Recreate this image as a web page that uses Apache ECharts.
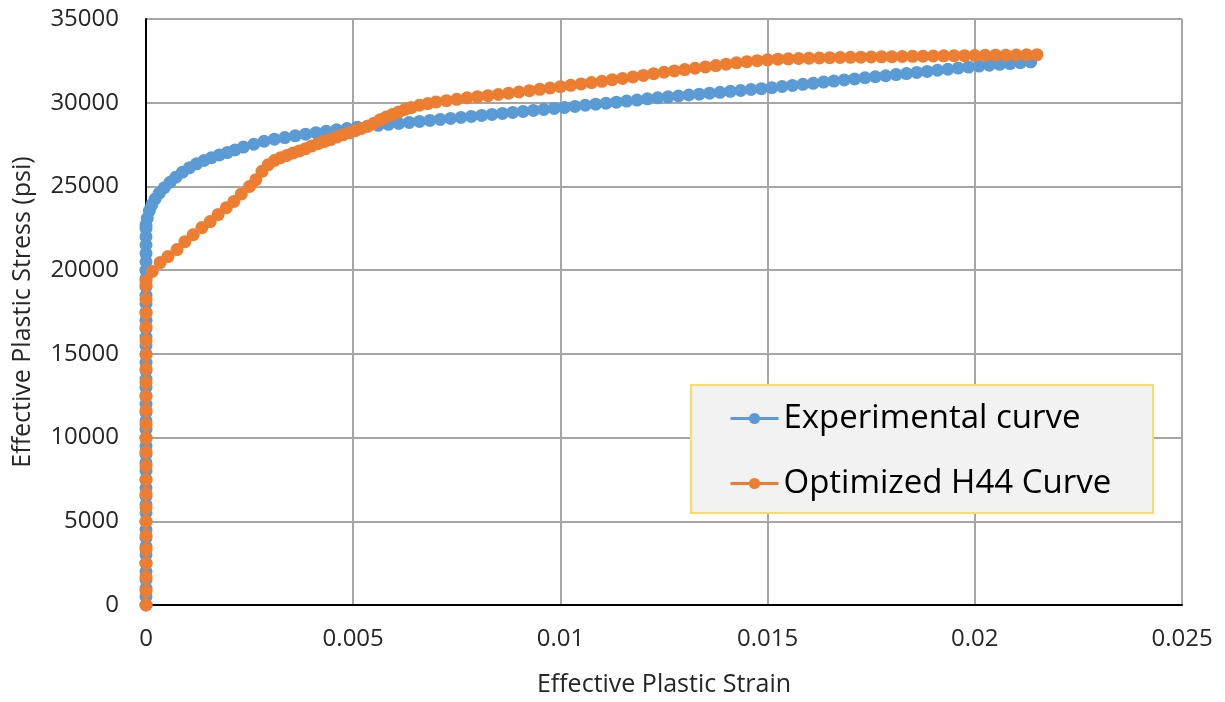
<!DOCTYPE html>
<html><head><meta charset="utf-8">
<script src="https://cdn.jsdelivr.net/npm/echarts@6/dist/echarts.min.js"></script>
<style>html,body{margin:0;padding:0;background:#fff}#c{width:1225px;height:702px}</style>
</head><body><div id="c"></div>
<script>
// ---- data ----
const seriesNames = ['Experimental curve', 'Optimized H44 Curve'];
const xTickLabels = ['0', '0.005', '0.01', '0.015', '0.02', '0.025'];
const yTickLabels = ['0', '5000', '10000', '15000', '20000', '25000', '30000', '35000'];

// Experimental curve: vertical (elastic) part at strain 0
const expVerticalStress = [0,500,1000,1500,2000,2500,3000,3500,4000,4500,5000,5500,6000,6500,7000,7500,8000,8500,9000,9500,10000,10500,11000,11500,12000,12500,13000,13500,14000,14500,15000,15500,16000,16500,17000,17500,18000,18500,19000,19500,20000,20500,21000,21500,22000,22500,22700];
// Experimental curve: plastic part
const expStrain = [0.00003,0.00008,0.00014,0.00022,0.00032,0.00044,0.00058,0.00072,0.00088,0.00105,0.00122,0.0014,0.00158,0.00177,0.00196,0.00215,
0.00235,0.0026,0.00285,0.0031,0.00335,0.0036,0.00385,0.0041,0.00435,0.0046,0.00485,0.0051,0.00535,0.0056,0.00585,0.0061,0.00635,0.0066,0.00685,0.0071,0.00735,0.0076,0.00785,0.0081,0.00835,0.0086,0.00885,0.0091,0.00935,0.0096,0.00985,0.0101,0.01035,0.0106,0.01085,0.0111,0.01135,0.0116,0.01185,0.0121,0.01235,0.0126,0.01285,0.0131,0.01335,0.0136,0.01385,0.0141,0.01435,0.0146,0.01485,0.0151,0.01535,0.0156,0.01585,0.0161,0.01635,0.0166,0.01685,0.0171,0.01735,0.0176,0.01785,0.0181,0.01835,0.0186,0.01885,0.0191,0.01935,0.0196,0.01985,0.0201,0.02035,0.0206,0.02085,0.0211,0.02135];
const expStress = [23100,23550,23900,24250,24600,24920,25250,25550,25850,26120,26350,26550,26720,26880,27020,27180,
27350,27520,27700,27820,27920,28020,28120,28210,28300,28380,28460,28540,28600,28650,28710,28760,28820,28880,28940,29000,29060,29120,29180,29240,29300,29360,29420,29480,29540,29600,29660,29720,29780,29850,29910,29970,30030,30100,30160,30230,30290,30350,30400,30460,30510,30570,30620,30680,30730,30790,30840,30900,30970,31030,31100,31160,31230,31290,31360,31420,31490,31550,31610,31680,31740,31810,31870,31940,32000,32070,32130,32190,32240,32290,32340,32390,32440];

// Optimized H44 curve: vertical part at strain 0
const h44VerticalStress = [0,830,1660,2490,3320,4150,4980,5810,6640,7470,8300,9130,9960,10790,11620,12450,13280,14110,14940,15770,16600,17430,18260,19090,19350];
// Optimized H44 curve: plastic part
const h44Strain = [0.00015,0.00034,0.00053,0.00075,0.00094,0.00114,0.00135,0.00155,0.00174,0.00194,0.00212,0.0023,0.0025,
0.00265,0.0028,0.00295,0.0031,0.00325,0.0034,0.00355,0.0037,0.00385,0.004,0.00415,0.0043,0.00445,0.0046,0.00475,0.0049,0.00505,0.0052,0.00535,0.0055,0.00565,0.0058,0.00595,0.0061,0.00625,0.0064,0.0066,0.0068,0.007,
0.00725,0.0075,0.00775,0.008,0.00825,0.0085,0.00875,0.009,0.00925,0.0095,0.00975,0.01,0.01025,0.0105,0.01075,0.011,0.01125,0.0115,0.01175,0.012,0.01225,0.0125,0.01275,0.013,0.01325,0.0135,0.01375,0.014,0.01425,0.0145,0.01475,0.015,0.01525,0.0155,0.01575,0.016,0.01625,0.0165,0.01675,0.017,0.01725,0.0175,0.01775,0.018,0.01825,0.0185,0.01875,0.019,0.01925,0.0195,0.01975,0.02,0.02025,0.0205,0.02075,0.021,0.02125,0.0215];
const h44Stress = [19920,20450,20810,21230,21700,22120,22540,22900,23320,23730,24100,24550,25000,
25400,25900,26300,26550,26720,26850,27000,27120,27250,27420,27560,27680,27800,27950,28080,28200,28330,28460,28600,28780,28980,29150,29300,29450,29600,29710,29850,29950,30050,
30120,30200,30290,30360,30420,30490,30570,30640,30720,30800,30880,30960,31040,31120,31200,31280,31370,31450,31540,31630,31730,31820,31900,31980,32060,32140,32220,32300,32380,32450,32510,32560,32600,32620,32640,32660,32670,32690,32700,32710,32720,32730,32740,32750,32760,32770,32780,32790,32800,32810,32810,32820,32830,32840,32840,32850,32860,32870];

// ---- build series data ----
const expData = expVerticalStress.map(s => [0, s]).concat(expStrain.map((x, i) => [x, expStress[i]]));
const h44Data = h44VerticalStress.map(s => [0, s]).concat(h44Strain.map((x, i) => [x, h44Stress[i]]));

const FONT = '"Open Sans", "Liberation Sans", sans-serif';
const chart = echarts.init(document.getElementById('c'), null, {renderer: 'canvas'});
chart.setOption({
  animation: false,
  backgroundColor: '#ffffff',
  grid: {left: 146, right: 43, top: 19, bottom: 96, containLabel: false},
  xAxis: {
    type: 'value', min: 0, max: 0.025, interval: 0.005,
    axisLine: {show: true, lineStyle: {color: '#000', width: 2}},
    axisTick: {show: false},
    splitLine: {show: true, lineStyle: {color: '#a6a6a6', width: 2}},
    axisLabel: {
      formatter: v => xTickLabels[Math.round(v / 0.005)],
      fontSize: 24, color: '#262626', margin: 22, fontFamily: FONT
    },
    name: 'Effective Plastic Strain', nameLocation: 'middle', nameGap: 67,
    nameTextStyle: {fontSize: 25, color: '#262626', fontFamily: FONT}
  },
  yAxis: {
    type: 'value', min: 0, max: 35000, interval: 5000,
    axisLine: {show: true, lineStyle: {color: '#000', width: 2}},
    axisTick: {show: false},
    splitLine: {show: true, lineStyle: {color: '#a6a6a6', width: 2}},
    axisLabel: {
      formatter: v => yTickLabels[Math.round(v / 5000)],
      fontSize: 24, color: '#262626', margin: 27, fontFamily: FONT
    },
    name: 'Effective Plastic Stress (psi)', nameLocation: 'middle', nameGap: 111, nameRotate: 90,
    nameTextStyle: {fontSize: 25, color: '#262626', fontFamily: FONT}
  },
  graphic: [{
    type: 'rect', z: 3,
    shape: {x: 691, y: 385, width: 462, height: 128},
    style: {fill: '#f2f2f2', stroke: '#ffd966', lineWidth: 2}
  }],
  legend: {
    data: seriesNames,
    orient: 'vertical', left: 729, top: 402, z: 5, padding: 0,
    itemWidth: 48, itemHeight: 14, itemGap: 32,
    lineStyle: {width: 3},
    textStyle: {fontSize: 33, color: '#000', fontFamily: FONT}
  },
  series: [
    {
      name: seriesNames[0], type: 'line', data: expData,
      symbol: 'circle', symbolSize: 13, showAllSymbol: true,
      lineStyle: {color: '#5b9bd5', width: 3},
      itemStyle: {color: '#5b9bd5'}, z: 2
    },
    {
      name: seriesNames[1], type: 'line', data: h44Data,
      symbol: 'circle', symbolSize: 13, showAllSymbol: true,
      lineStyle: {color: '#ed7d31', width: 3},
      itemStyle: {color: '#ed7d31'}, z: 3
    }
  ]
});
</script>
</body></html>
